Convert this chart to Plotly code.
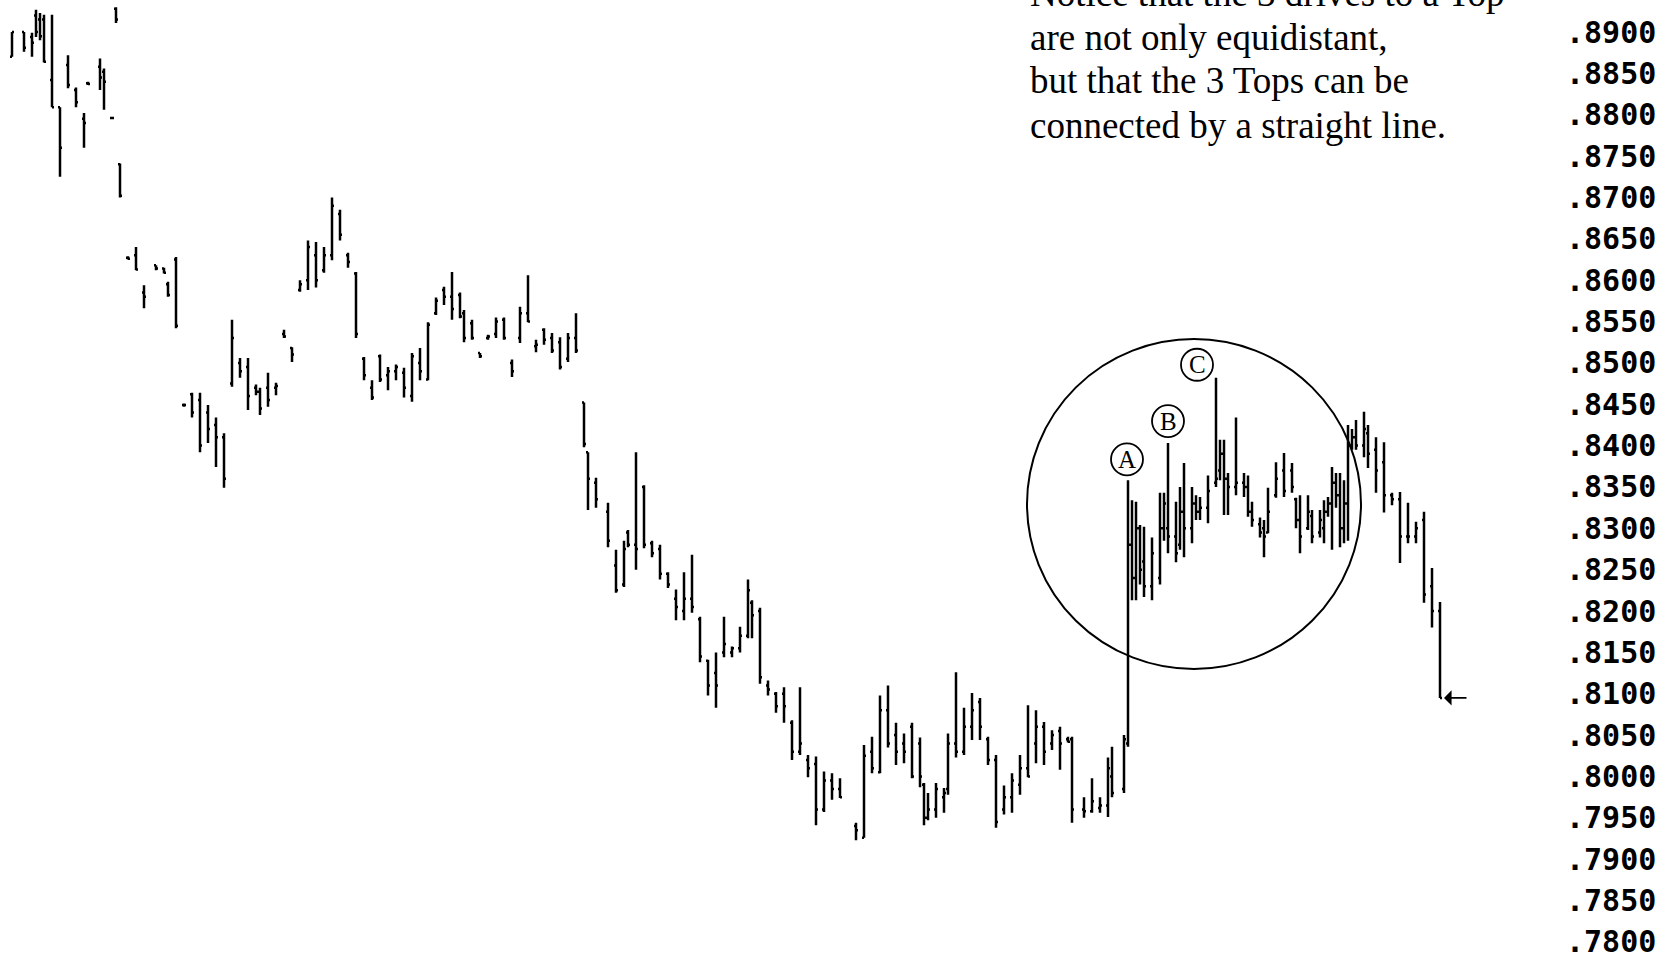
import plotly.graph_objects as go

# ---------------- data ----------------
sessions = [3, 6, 8, 9, 10, 11, 13, 15, 17, 19, 21, 22, 25, 26, 28, 29, 30, 32, 34, 36,
            39, 41, 42, 44, 46, 48, 50, 52, 54, 56, 58, 60, 62, 64, 65, 67, 69, 71, 73, 75,
            77, 79, 81, 83, 85, 87, 89, 91, 93, 95, 97, 99, 101, 103, 105, 107, 109, 111, 113, 115,
            116, 118, 120, 122, 124, 126, 128, 130, 132, 134, 136, 138, 140, 142, 144, 146, 147, 149, 152, 154,
            156, 157, 159, 161, 163, 165, 167, 169, 171, 173, 175, 177, 179, 181, 183, 185, 187, 188, 190, 192,
            194, 196, 198, 200, 202, 204, 206, 208, 210, 214, 216, 218, 220, 222, 224, 226, 228, 230, 231, 232,
            234, 236, 237, 239, 241, 243, 245, 247, 249, 251, 253, 255, 257, 259, 261, 263, 265, 267, 268, 271,
            273, 275, 277, 278, 281, 282, 283, 284, 285, 286, 288, 290, 291, 292, 294, 295, 296, 298, 299, 300,
            302, 304, 305, 306, 307, 309, 311, 312, 313, 315, 316, 317, 319, 321, 323, 324, 325, 327, 328, 330,
            331, 332, 333, 334, 335, 336, 337, 338, 339, 341, 342, 344, 346, 348, 350, 352, 354, 356, 358, 360]

opens = [.8870, .8900, .8894, .8920, .8915, .8915, .8842, .8809, .8860, .8830, .8795, .8838, .8858, .8852, .8796, .8928, .8740, .8627, .8630, .8585,
         .8618, .8614, .8595, .8625, .8449, .8462, .8455, .8440, .8425, .8410, .8475, .8500, .8495, .8470, .8465, .8470, .8470, .8535, .8518, .8588,
         .8600, .8630, .8612, .8630, .8680, .8630, .8608, .8505, .8470, .8508, .8485, .8490, .8488, .8460, .8500, .8480, .8560, .8588, .8580, .8582,
         .8560, .8548, .8512, .8530, .8535, .8552, .8500, .8530, .8560, .8520, .8540, .8530, .8525, .8505, .8530, .8452, .8392, .8355, .8320, .8255,
         .8232, .8295, .8280, .8350, .8282, .8275, .8245, .8215, .8200, .8215, .8190, .8140, .8125, .8150, .8150, .8155, .8170, .8210, .8200, .8110,
         .8100, .8100, .8065, .8030, .8020, .8015, .7960, .7995, .7985, .7940, .7926, .8030, .8005, .8080, .8050, .8040, .8060, .8040, .7990, .7950,
         .7960, .7975, .7985, .8040, .8030, .8060, .8090, .8045, .8020, .7960, .7975, .7990, .8010, .8040, .8060, .8040, .8055, .8045, .8045, .7960,
         .7958, .7962, .7965, .8000, .7985, .8040, .8280, .8240, .8300, .8260, .8230, .8240, .8300, .8300, .8290, .8280, .8320, .8300, .8330, .8320,
         .8325, .8355, .8370, .8390, .8360, .8350, .8355, .8350, .8320, .8305, .8300, .8295, .8340, .8370, .8370, .8335, .8310, .8300, .8315, .8295,
         .8300, .8320, .8330, .8355, .8340, .8300, .8330, .8400, .8410, .8400, .8415, .8395, .8380, .8340, .8335, .8290, .8290, .8310, .8230, .8200]

highs = [.8900, .8900, .8899, .8927, .8923, .8921, .8921, .8809, .8872, .8833, .8802, .8840, .8868, .8856, .8797, .8930, .8741, .8629, .8640, .8594,
         .8618, .8615, .8598, .8628, .8451, .8464, .8464, .8449, .8434, .8415, .8552, .8506, .8506, .8474, .8470, .8488, .8476, .8540, .8519, .8600,
         .8648, .8646, .8640, .8700, .8685, .8633, .8610, .8507, .8479, .8510, .8495, .8498, .8494, .8512, .8518, .8549, .8579, .8592, .8610, .8585,
         .8564, .8552, .8512, .8534, .8555, .8555, .8504, .8568, .8606, .8528, .8542, .8536, .8531, .8536, .8560, .8452, .8392, .8361, .8331, .8274,
         .8285, .8298, .8392, .8352, .8285, .8280, .8247, .8226, .8247, .8268, .8193, .8141, .8150, .8193, .8157, .8181, .8238, .8213, .8204, .8116,
         .8102, .8108, .8068, .8108, .8026, .8024, .8006, .8004, .7998, .7944, .8038, .8048, .8098, .8110, .8065, .8052, .8065, .8047, .7992, .7980,
         .7992, .7986, .8052, .8126, .8083, .8101, .8095, .8048, .8026, .7989, .8004, .8026, .8086, .8080, .8066, .8056, .8060, .8048, .8048, .7975,
         .7998, .7975, .8023, .8036, .8050, .8358, .8334, .8332, .8304, .8302, .8289, .8343, .8343, .8403, .8332, .8350, .8379, .8350, .8340, .8338,
         .8364, .8482, .8407, .8407, .8367, .8434, .8367, .8364, .8332, .8313, .8310, .8349, .8380, .8391, .8379, .8337, .8340, .8340, .8322, .8322,
         .8334, .8338, .8374, .8367, .8367, .8358, .8425, .8420, .8431, .8441, .8425, .8410, .8404, .8343, .8344, .8331, .8308, .8320, .8252, .8211]

lows = [.8870, .8876, .8870, .8894, .8890, .8863, .8809, .8725, .8832, .8809, .8760, .8836, .8830, .8806, .8795, .8911, .8700, .8625, .8612, .8566,
        .8612, .8608, .8580, .8542, .8447, .8434, .8392, .8403, .8374, .8349, .8471, .8482, .8443, .8461, .8437, .8447, .8461, .8530, .8501, .8586,
        .8588, .8591, .8609, .8624, .8648, .8615, .8530, .8479, .8455, .8477, .8467, .8479, .8458, .8453, .8479, .8479, .8558, .8570, .8552, .8554,
        .8525, .8528, .8506, .8528, .8530, .8528, .8483, .8524, .8549, .8513, .8522, .8512, .8492, .8501, .8512, .8398, .8322, .8325, .8277, .8222,
        .8229, .8277, .8250, .8276, .8265, .8238, .8228, .8189, .8189, .8198, .8138, .8098, .8083, .8144, .8144, .8150, .8167, .8167, .8112, .8098,
        .8077, .8065, .8020, .8026, .7999, .7941, .7957, .7972, .7974, .7923, .7926, .8004, .8004, .8035, .8014, .8016, .7998, .7987, .7941, .7947,
        .7950, .7956, .7978, .8023, .8026, .8044, .8044, .8014, .7938, .7954, .7956, .7978, .7999, .8016, .8014, .8032, .8008, .8041, .7944, .7950,
        .7956, .7956, .7951, .7975, .7980, .8036, .8213, .8213, .8232, .8217, .8213, .8232, .8285, .8270, .8259, .8274, .8265, .8282, .8310, .8310,
        .8306, .8350, .8358, .8316, .8316, .8340, .8338, .8314, .8302, .8289, .8265, .8294, .8337, .8338, .8343, .8300, .8270, .8298, .8282, .8289,
        .8282, .8314, .8274, .8325, .8277, .8282, .8285, .8395, .8395, .8386, .8373, .8343, .8319, .8328, .8258, .8282, .8282, .8210, .8180, .8095]

closes = [.8900, .8881, .8887, .8900, .8895, .8864, .8809, .8760, .8836, .8815, .8790, .8837, .8845, .8840, .8796, .8915, .8702, .8626, .8613, .8580,
          .8614, .8609, .8582, .8545, .8449, .8440, .8400, .8420, .8410, .8360, .8530, .8490, .8460, .8465, .8445, .8455, .8472, .8532, .8510, .8595,
          .8640, .8600, .8630, .8690, .8655, .8622, .8535, .8485, .8458, .8480, .8490, .8495, .8470, .8508, .8490, .8546, .8575, .8580, .8565, .8556,
          .8530, .8530, .8508, .8532, .8550, .8530, .8490, .8560, .8550, .8522, .8528, .8515, .8495, .8530, .8515, .8402, .8360, .8335, .8285, .8225,
          .8275, .8280, .8275, .8280, .8270, .8245, .8232, .8205, .8215, .8205, .8145, .8110, .8110, .8160, .8155, .8170, .8225, .8195, .8120, .8105,
          .8085, .8085, .8030, .8040, .8010, .7960, .7995, .7985, .7975, .7935, .8025, .8010, .8080, .8040, .8030, .8030, .8000, .8000, .7950, .7960,
          .7985, .7980, .8040, .8030, .8060, .8080, .8060, .8020, .7945, .7975, .7995, .8010, .8000, .8060, .8030, .8050, .8040, .8042, .7960, .7958,
          .7970, .7965, .8010, .7980, .8045, .8280, .8240, .8300, .8250, .8230, .8270, .8300, .8330, .8290, .8270, .8320, .8300, .8330, .8320, .8325,
          .8345, .8360, .8390, .8360, .8350, .8355, .8350, .8320, .8310, .8295, .8290, .8320, .8360, .8345, .8350, .8310, .8290, .8320, .8290, .8310,
          .8320, .8330, .8355, .8340, .8300, .8330, .8400, .8410, .8400, .8420, .8390, .8370, .8340, .8335, .8290, .8290, .8300, .8220, .8200, .8095]

tick_values = [0.7800, 0.7850, 0.7900, 0.7950, 0.8000, 0.8050, 0.8100, 0.8150, 0.8200, 0.8250,
               0.8300, 0.8350, 0.8400, 0.8450, 0.8500, 0.8550, 0.8600, 0.8650, 0.8700, 0.8750,
               0.8800, 0.8850, 0.8900]
tick_labels = [".7800", ".7850", ".7900", ".7950", ".8000", ".8050", ".8100", ".8150", ".8200", ".8250",
               ".8300", ".8350", ".8400", ".8450", ".8500", ".8550", ".8600", ".8650", ".8700", ".8750",
               ".8800", ".8850", ".8900"]

top_labels = ["A", "B", "C"]
top_label_sessions = [282, 292, 304]

note_lines = ["Notice that the 3 drives to a Top",
              "are not only equidistant,",
              "but that the 3 Tops can be",
              "connected by a straight line."]

# ---------------- layout constants ----------------
W, H = 1675, 963
MR = 110
label_dx = [-1, 0, -19]
label_dy = [21, 22, 13]
note_y_px = [-6.5, 37.5, 80.5, 125.5]

fig = go.Figure()
fig.add_trace(go.Ohlc(
    x=sessions, open=opens, high=highs, low=lows, close=closes,
    increasing=dict(line=dict(color="black", width=2.5)),
    decreasing=dict(line=dict(color="black", width=2.5)),
    tickwidth=0.5, hoverinfo="skip", showlegend=False,
))

shapes = []
annotations = []

# big circle around the three tops
shapes.append(dict(type="circle", xref="x", yref="y",
                   x0=256.75, x1=340.25, y0=0.81299, y1=0.85288,
                   line=dict(color="black", width=2)))

# circled letters above the three tops
for lab, s, dx, dy in zip(top_labels, top_label_sessions, label_dx, label_dy):
    i = sessions.index(s)
    hi = highs[i]
    shapes.append(dict(type="circle", xref="x", yref="y",
                       xsizemode="pixel", ysizemode="pixel",
                       xanchor=s, yanchor=hi,
                       x0=dx - 16, x1=dx + 16, y0=dy - 16, y1=dy + 16,
                       fillcolor="white", line=dict(color="black", width=1.8)))
    annotations.append(dict(x=s, y=hi, xref="x", yref="y", text=lab, showarrow=False,
                            xshift=dx, yshift=dy, xanchor="center", yanchor="middle",
                            font=dict(family="Liberation Serif", size=25, color="black")))

# note text
for line, ypx in zip(note_lines, note_y_px):
    annotations.append(dict(x=1028 / (W - MR), y=1 - ypx / H, xref="paper", yref="paper",
                            text=line, showarrow=False, xanchor="left", yanchor="middle",
                            font=dict(family="Liberation Serif", size=37, color="black")))

# arrow pointing at the last close
annotations.append(dict(x=sessions[-1], y=closes[-1], xref="x", yref="y", text="",
                        showarrow=True, ax=28, ay=0, arrowhead=1, arrowsize=1.4,
                        arrowwidth=1.8, arrowcolor="black", standoff=4))

fig.update_layout(
    width=W, height=H,
    margin=dict(l=0, r=MR, t=0, b=0),
    paper_bgcolor="white", plot_bgcolor="white",
    shapes=shapes, annotations=annotations,
    xaxis=dict(range=[0, (W - MR) / 4], visible=False, rangeslider=dict(visible=False),
               showgrid=False, zeroline=False),
    yaxis=dict(range=[0.77745, 0.89387], side="right", tickvals=tick_values, ticktext=tick_labels,
               showgrid=False, zeroline=False, showline=False, ticks="",
               tickfont=dict(family="DejaVu Sans Mono", size=30, color="black", weight="bold")),
    showlegend=False,
)

fig.write_html("out.html", config={"displayModeBar": False},
               post_script="document.body.style.margin='0';")
